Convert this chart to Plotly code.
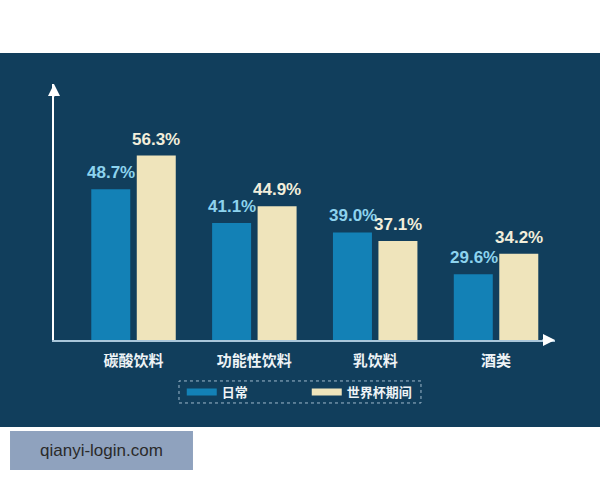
import plotly.graph_objects as go

# categories and the two series (percent)
categories = ["碳酸饮料", "功能性饮料", "乳饮料", "酒类"]
daily = [48.7, 41.1, 39.0, 29.6]
world_cup = [56.3, 44.9, 37.1, 34.2]
series_names = ["日常", "世界杯期间"]

navy = "#113e5c"
blue = "#1381b6"
cream = "#efe4bb"
blue_txt = "#8dd3ee"
cream_txt = "#f2eedb"
axis_col = "#a9c6da"

fig = go.Figure()
fig.add_bar(x=categories, y=daily, marker_color=blue, marker_line_width=0,
            showlegend=False)
fig.add_bar(x=categories, y=world_cup, marker_color=cream, marker_line_width=0,
            showlegend=False)

# legend entries drawn as thick line swatches
fig.add_scatter(x=[None], y=[None], mode="lines", name=series_names[0],
                line=dict(color=blue, width=7))
fig.add_scatter(x=[None], y=[None], mode="lines", name=series_names[1],
                line=dict(color=cream, width=7))

# value labels above the bars
anns = []
for cat, v in zip(categories, daily):
    anns.append(dict(x=cat, y=v, text=f"{v:.1f}%", showarrow=False,
                     xshift=-22.5, yshift=5, yanchor="bottom",
                     font=dict(size=17, color=blue_txt, family="Liberation Sans",
                               weight="bold")))
for cat, v in zip(categories, world_cup):
    anns.append(dict(x=cat, y=v, text=f"{v:.1f}%", showarrow=False,
                     xshift=22.5, yshift=5, yanchor="bottom",
                     font=dict(size=17, color=cream_txt, family="Liberation Sans",
                               weight="bold")))

# axis arrow heads
anns.append(dict(xref="paper", yref="paper", x=0, y=1, ax=0, ay=14,
                 text="", showarrow=True, arrowhead=2, arrowsize=1.6,
                 arrowwidth=1.5, arrowcolor="#ffffff"))
anns.append(dict(xref="paper", yref="paper", x=1, y=0, ax=-14, ay=0,
                 text="", showarrow=True, arrowhead=2, arrowsize=1.6,
                 arrowwidth=1.5, arrowcolor="#ffffff"))

# watermark text
anns.append(dict(xref="paper", yref="paper", x=0.0948, y=-0.432,
                 xanchor="center", yanchor="middle",
                 text="qianyi-login.com", showarrow=False,
                 font=dict(size=17, color="#2a2a2a", family="Liberation Sans")))

shapes = [
    # navy panel
    dict(type="rect", xref="paper", yref="paper", x0=-0.2, x1=1.2,
         y0=-0.340, y1=1.121, fillcolor=navy, line_width=0, layer="below"),
    # dashed legend frame
    dict(type="rect", xref="paper", yref="paper", x0=0.2495, x1=0.7325,
         y0=-0.246, y1=-0.160, line=dict(color="#9fb9cc", width=1, dash="dot"),
         fillcolor="rgba(0,0,0,0)"),
    # watermark box
    dict(type="rect", xref="paper", yref="paper", x0=-0.0878, x1=0.2774,
         y0=-0.5078, y1=-0.3555, fillcolor="#8fa2be", line_width=0),
]

fig.update_layout(
    width=600, height=480,
    margin=dict(l=54, r=45, t=84, b=140),
    paper_bgcolor="#ffffff",
    plot_bgcolor="rgba(0,0,0,0)",
    barmode="group", bargap=0.247, bargroupgap=0.143,
    annotations=anns, shapes=shapes,
    legend=dict(orientation="h", x=0.255, y=-0.203, xanchor="left",
                yanchor="middle", bgcolor="rgba(0,0,0,0)", borderwidth=0,
                entrywidth=80,
                font=dict(size=13, color="#eef3f6", family="Noto Sans CJK SC",
                          weight="bold")),
)
fig.update_xaxes(range=[-0.658, 3.488], showline=True, linecolor=axis_col,
                 linewidth=1.5, showgrid=False, ticks="",
                 ticklabelstandoff=6,
                 tickfont=dict(size=15, color="#eef3f6",
                               family="Noto Sans CJK SC", weight="bold"))
fig.update_yaxes(range=[14.8, 72.4], showline=True, linecolor="#ffffff",
                 linewidth=1.5, showgrid=False, zeroline=False,
                 showticklabels=False, ticks="")

fig.write_html("out.html", config={"displayModeBar": False},
               post_script="document.body.style.margin='0px';")
